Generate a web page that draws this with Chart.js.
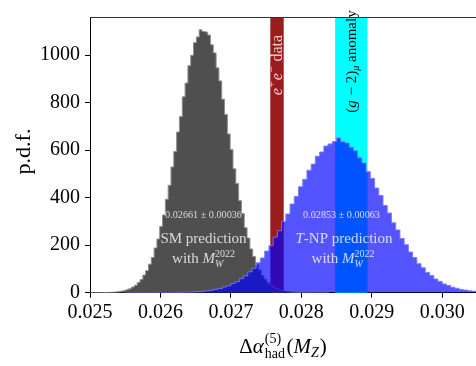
<!DOCTYPE html>
<html>
<head>
<meta charset="utf-8">
<script src="https://cdn.jsdelivr.net/npm/chart.js@4/dist/chart.umd.min.js"></script>
<style>
  html, body { margin: 0; padding: 0; background: #fff; }
  canvas { display: block; }
</style>
</head>
<body>
<canvas id="c" width="476" height="366"></canvas>
<script>
// ---------------- data ----------------
// SM prediction histogram (p.d.f.), bins of equal width starting at smStart
const smStart = 0.02479;
const smBinWidth = 0.00004;
const smValues = [
  0, 0, 0, 0, 0.1, 0, 0.1, 0.2, 0.3, 0.4,
  0.7, 0.9, 1.4, 1.9, 3.0, 4.2, 6.4, 8.6, 12.6, 16.8,
  23.9, 31.2, 43.0, 55.1, 74.0, 92.6, 120, 148, 188, 226,
  279, 327, 393, 452, 529, 594, 676, 741, 824, 882,
  955, 999, 1052, 1076, 1106, 1099, 1097, 1084, 1043, 1009,
  946, 891, 814, 750, 668, 602, 521, 459, 387, 333,
  273, 230, 184, 152, 117, 95.4, 71.8, 56.9, 41.5, 32.3,
  22.8, 17.5, 11.9, 9.1, 6.0, 4.4, 2.8, 2.1, 1.2, 0.9,
  0.6, 0.4, 0.3, 0.2, 0.1, 0.1, 0, 0, 0, 0
];
// T-NP prediction histogram
const tnpStart = 0.0255;
const tnpBinWidth = 0.00006;
const tnpValues = [
  0, 0, 0, 0, 0.1, 0.1, 0.1, 0.2, 0.2, 0.3,
  0.5, 0.7, 0.9, 1.4, 1.8, 2.6, 3.3, 4.8, 6.0, 8.4,
  10.6, 14.5, 18.0, 24.1, 29.2, 38.3, 46.4, 59.0, 70.6, 87.8,
  103, 126, 146, 175, 198, 234, 261, 300, 331, 373,
  405, 446, 477, 515, 541, 574, 592, 617, 626, 636,
  651, 635, 630, 612, 597, 568, 546, 509, 481, 440,
  409, 367, 335, 294, 264, 228, 202, 171, 148, 122,
  105, 85.5, 72.0, 57.3, 47.6, 37.0, 30.3, 23.1, 18.6, 13.8,
  11.0, 8.0, 6.3, 4.5, 3.5, 2.4, 1.8, 1.2, 0.9, 0.6,
  0.5, 0.3, 0.2, 0.2, 0.1, 0.1, 0.1, 0, 0, 0
];
// vertical bands
const eeBand = [0.02756, 0.02775];    // e+e- data
const gm2Band = [0.02848, 0.02894];   // (g-2)_mu anomaly
// central values shown in the labels
const smLabel = "0.02661 ± 0.00036";
const tnpLabel = "0.02853 ± 0.00063";
// ticks
const xTicks = [0.025, 0.026, 0.027, 0.028, 0.029, 0.030];
const yTicks = [0, 200, 400, 600, 800, 1000];
const xRange = [0.025, 0.03048];
const yRange = [0, 1160];

// ---------------- helpers ----------------
function histPoints(start, width, values) {
  const pts = [{ x: start, y: 0 }];
  values.forEach((v, i) => pts.push({ x: start + i * width, y: v }));
  pts.push({ x: start + values.length * width, y: 0 });
  return pts;
}

const FAM = "'Liberation Serif', 'DejaVu Serif', serif";
function fnt(size, italic) { return (italic ? 'italic ' : '') + size + 'px ' + FAM; }

function itemWidth(ctx, it) {
  let w;
  if (it.stack) w = Math.max(...it.stack.map(s => itemWidth(ctx, s)));
  else { ctx.font = fnt(it.s, it.i); w = ctx.measureText(it.t).width; }
  return w + (it.gap || 0);
}
function drawSeq(ctx, items, cx, y, color) {
  const total = items.reduce((a, it) => a + itemWidth(ctx, it), 0);
  let x = cx - total / 2;
  ctx.fillStyle = color;
  ctx.textAlign = 'left';
  ctx.textBaseline = 'alphabetic';
  items.forEach(it => {
    const w = itemWidth(ctx, it);
    const list = it.stack ? it.stack : [it];
    list.forEach(s => {
      ctx.font = fnt(s.s, s.i);
      ctx.fillText(s.t, x, y + (s.dy || 0));
    });
    x += w;
  });
}

const lightText = 'rgba(255,255,255,0.78)';

const decorPlugin = {
  id: 'decor',
  beforeDatasetsDraw(chart) {
    const { ctx, chartArea: a, scales: { x } } = chart;
    ctx.save();
    const bands = [[eeBand, '#9b1c1c'], [gm2Band, '#00ffff']];
    bands.forEach(([b, col]) => {
      const x1 = x.getPixelForValue(b[0]);
      const x2 = x.getPixelForValue(b[1]);
      ctx.fillStyle = col;
      ctx.fillRect(x1, a.top, x2 - x1, a.bottom - a.top);
    });
    ctx.restore();
  },
  afterDatasetsDraw(chart) {
    const { ctx, chartArea: a, scales: { x } } = chart;
    ctx.save();
    // band labels (rotated)
    const eeX = x.getPixelForValue((eeBand[0] + eeBand[1]) / 2);
    ctx.save();
    ctx.translate(eeX + 4.5, 65);
    ctx.rotate(-Math.PI / 2);
    drawSeq(ctx, [
      { t: 'e', s: 16, i: true, gap: 0.5 },
      { t: '+', s: 11, dy: -7, gap: 1 },
      { t: 'e', s: 16, i: true, gap: 0.5 },
      { t: '−', s: 11, dy: -7, gap: 1 },
      { t: ' data', s: 16 }
    ], 0, 0, lightText);
    ctx.restore();

    const gX = x.getPixelForValue((gm2Band[0] + gm2Band[1]) / 2);
    ctx.save();
    ctx.translate(gX + 4.5, 61.5);
    ctx.rotate(-Math.PI / 2);
    drawSeq(ctx, [
      { t: '(', s: 15 },
      { t: 'g', s: 15, i: true, gap: 1 },
      { t: ' − 2)', s: 15 },
      { t: 'μ', s: 10, i: true, dy: 3 },
      { t: ' anomaly', s: 15 }
    ], 0, 0, '#000');
    ctx.restore();

    // SM labels
    const smX = 203.5;
    drawSeq(ctx, [{ t: smLabel, s: 10.2 }], smX, 218, lightText);
    drawSeq(ctx, [{ t: 'SM prediction', s: 15 }], smX, 243, lightText);
    drawSeq(ctx, [
      { t: 'with ', s: 15 },
      { t: 'M', s: 15, i: true },
      { stack: [{ t: '2022', s: 10, dy: -6 }, { t: 'W', s: 10, i: true, dy: 4 }] }
    ], smX, 263, lightText);

    // T-NP labels
    const tX = 343;
    drawSeq(ctx, [{ t: tnpLabel, s: 10.2 }], tX - 1.5, 218, lightText);
    drawSeq(ctx, [{ t: 'T', s: 15, i: true }, { t: '-NP prediction', s: 15 }], tX + 1, 243, lightText);
    drawSeq(ctx, [
      { t: 'with ', s: 15 },
      { t: 'M', s: 15, i: true },
      { stack: [{ t: '2022', s: 10, dy: -6 }, { t: 'W', s: 10, i: true, dy: 4 }] }
    ], tX, 263, lightText);

    // top spine
    ctx.strokeStyle = '#333';
    ctx.lineWidth = 1;
    ctx.beginPath();
    ctx.moveTo(a.left, a.top + 0.5);
    ctx.lineTo(a.right, a.top + 0.5);
    ctx.stroke();

    // axis titles
    ctx.save();
    ctx.translate(30, 151.5);
    ctx.rotate(-Math.PI / 2);
    drawSeq(ctx, [{ t: 'p.d.f.', s: 22 }], 0, 0, '#000');
    ctx.restore();

    drawSeq(ctx, [
      { t: 'Δ', s: 21 },
      { t: 'α', s: 21, i: true, gap: 1 },
      { stack: [{ t: '(5)', s: 14, dy: -10 }, { t: 'had', s: 14, dy: 5 }], gap: 1.5 },
      { t: '(', s: 21 },
      { t: 'M', s: 21, i: true },
      { t: 'Z', s: 14, i: true, dy: 4, gap: 1 },
      { t: ')', s: 21 }
    ], 283, 353, '#000');
    ctx.restore();
  }
};

new Chart(document.getElementById('c'), {
  type: 'line',
  data: {
    datasets: [
      {
        label: 'SM prediction',
        data: histPoints(smStart, smBinWidth, smValues),
        stepped: true,
        fill: 'origin',
        backgroundColor: '#4f4f4f',
        borderColor: '#8e8e8e',
        borderWidth: 1,
        pointRadius: 0,
        order: 2
      },
      {
        label: 'T-NP prediction',
        data: histPoints(tnpStart, tnpBinWidth, tnpValues),
        stepped: true,
        fill: 'origin',
        backgroundColor: 'rgba(0,0,255,0.67)',
        borderColor: 'rgba(120,120,255,0.9)',
        borderWidth: 1,
        pointRadius: 0,
        order: 1
      }
    ]
  },
  options: {
    responsive: false,
    animation: false,
    devicePixelRatio: 1,
    layout: { padding: { top: 3, right: 0, left: 0, bottom: 0 } },
    plugins: { legend: { display: false }, tooltip: { enabled: false } },
    scales: {
      x: {
        type: 'linear',
        min: xRange[0],
        max: xRange[1],
        afterBuildTicks: ax => { ax.ticks = xTicks.map(v => ({ value: v })); },
        afterFit: ax => { ax.height = 73.3; },
        ticks: {
          autoSkip: false, maxRotation: 0, padding: 3, color: '#000',
          font: { family: FAM, size: 20 },
          callback: v => v.toFixed(3)
        },
        grid: { drawOnChartArea: false, tickLength: 5, color: '#000' },
        border: { color: '#000', width: 1 }
      },
      y: {
        min: yRange[0],
        max: yRange[1],
        afterBuildTicks: ax => { ax.ticks = yTicks.map(v => ({ value: v })); },
        afterFit: ax => { ax.width = 90; },
        ticks: {
          padding: 5, color: '#000',
          font: { family: FAM, size: 20 },
          callback: v => String(v)
        },
        grid: { drawOnChartArea: false, tickLength: 5, color: '#000' },
        border: { color: '#000', width: 1 }
      }
    }
  },
  plugins: [decorPlugin]
});
</script>
</body>
</html>
